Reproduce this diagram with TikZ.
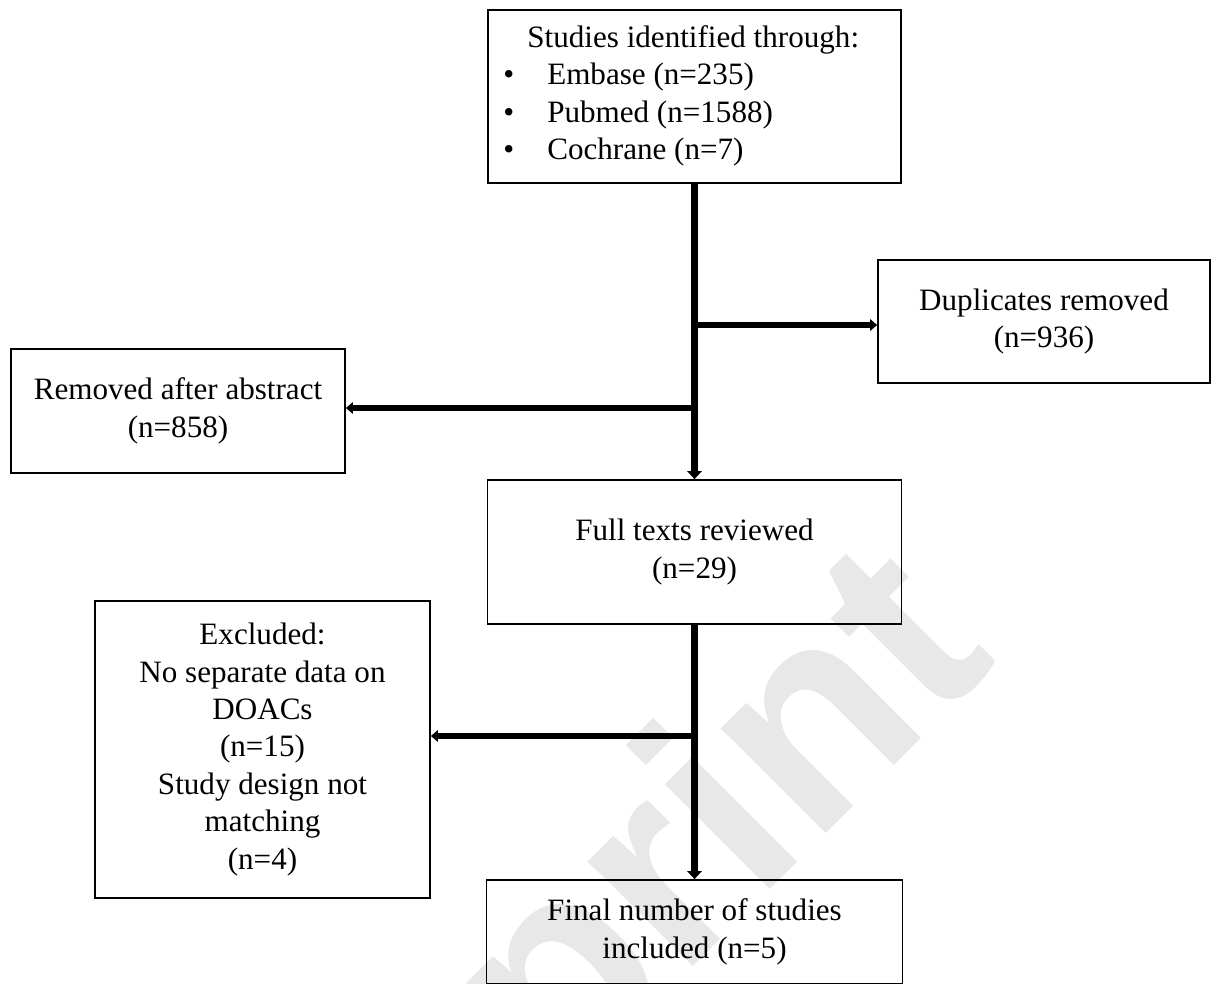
\documentclass[tikz,border=0pt]{standalone}
\usepackage{fontspec}
\setmainfont{Liberation Serif}
\newfontfamily\wmfont{Liberation Sans}
\usetikzlibrary{arrows.meta}
\begin{document}
\begin{tikzpicture}[x=0.02cm,y=-0.02cm,
  txt/.style={font=\fontsize{17.7}{21.3}\selectfont},
  box/.style={draw=black, line width=1pt, align=center, inner sep=0pt, txt},
  vline/.style={line width=4.3pt, -{Triangle[length=4.5pt,width=8pt]}},
  hline/.style={line width=3.3pt, -{Triangle[length=4pt,width=6.5pt]}},
  wm/.style={text=black!9, font=\wmfont\bfseries\fontsize{160}{160}\selectfont, inner sep=0pt}
]
\useasboundingbox (0,0) rectangle (1212,983);
% watermark
\node[wm, anchor=base east, rotate=45] (wmark) at (1000,660) {Preprint};
% boxes
\node[box, minimum width=8.26cm, minimum height=3.46cm] (top) at (694.5,96.5) {};
\node[txt, align=left, anchor=west, inner sep=0pt] (toptext) at (503,96)
  {\hspace*{13.7pt}Studies identified through:\\
   \makebox[25pt][l]{\textbullet}Embase (n=235)\\
   \makebox[25pt][l]{\textbullet}Pubmed (n=1588)\\
   \makebox[25pt][l]{\textbullet}Cochrane (n=7)};
\node[box, minimum width=6.64cm, minimum height=2.46cm] (dup) at (1044,321.5)
  {Duplicates removed\\(n=936)};
\node[box, minimum width=6.68cm, minimum height=2.48cm] (rem) at (178,411)
  {Removed after abstract\\(n=858)};
\node[box, minimum width=8.28cm, minimum height=2.88cm] (full) at (694.5,552)
  {Full texts reviewed\\(n=29)};
\node[box, minimum width=6.7cm, minimum height=5.94cm] (excl) at (262.5,749.5)
  {Excluded:\\No separate data on\\DOACs\\(n=15)\\Study design not\\matching\\(n=4)};
\node[box, minimum width=8.32cm, minimum height=2.08cm] (final) at (694.5,932)
  {Final number of studies\\included (n=5)};
% connectors
\coordinate (j1) at (694.5,325);
\coordinate (j2) at (694.5,408);
\coordinate (j3) at (694.5,736);
\draw[vline] (top.south) -- (full.north);
\draw[hline] (j1) -- (j1 -| dup.west);
\draw[hline] (j2) -- (j2 -| rem.east);
\draw[vline] (full.south) -- (final.north);
\draw[hline] (j3) -- (j3 -| excl.east);
\end{tikzpicture}
\end{document}
